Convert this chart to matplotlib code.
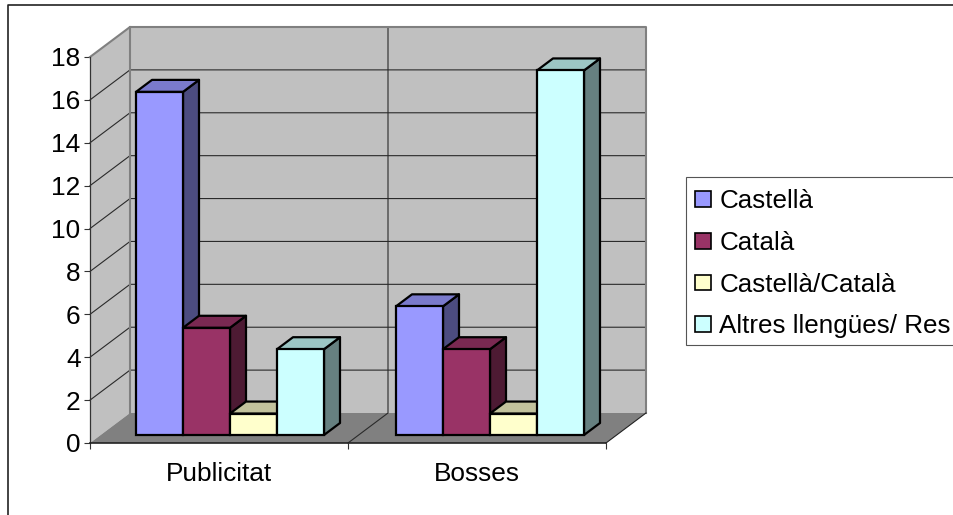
from matplotlib import pyplot as plt
from matplotlib.patches import Patch, Rectangle
from matplotlib.lines import Line2D

categories = ['Publicitat', 'Bosses']
series_names = ['Castellà', 'Català', 'Castellà/Català', 'Altres llengües/ Res']
castella = [16, 6]
catala = [5, 4]
castella_catala = [1, 1]
altres = [4, 17]
yticks = [0, 2, 4, 6, 8, 10, 12, 14, 16, 18]

# front, top, side colour of each series
front_colors = ['#9999FF', '#993366', '#FFFFCC', '#CCFFFF']
top_colors = ['#7A7ACC', '#7A2952', '#C2C29C', '#9CC6C4']
side_colors = ['#4C4C80', '#4D1A33', '#80806A', '#668080']

W, H = 954, 515
px_x = 258.0   # pixels for one category
px_y = 386.0 / 18  # pixels for one y unit


def dx(p):
    return p / px_x


def dy(p):
    return p / px_y


plt.rcParams['font.family'] = ['Liberation Sans', 'DejaVu Sans']
fig = plt.figure(figsize=(W / 100, H / 100), dpi=100)
ax = fig.add_axes([90 / W, 1 - 443 / H, 516 / W, 386 / H])
ax.set_xlim(0, 2)
ax.set_ylim(0, 18)
ax.patch.set_visible(False)

# walls and floor
wall_x, wall_y = dx(40), dy(30)
ax.fill([0, wall_x, wall_x, 0], [0, wall_y, 18 + wall_y, 18], color='#C0C0C0', lw=0, clip_on=False, zorder=1)
ax.fill([wall_x, 2 + wall_x, 2 + wall_x, wall_x], [wall_y, wall_y, 18 + wall_y, 18 + wall_y],
        color='#C0C0C0', lw=0, clip_on=False, zorder=1)
ax.fill([0, 2, 2 + wall_x, wall_x], [0, 0, wall_y, wall_y], color='#808080', lw=0, clip_on=False, zorder=1)

# grid lines
for v in yticks[1:-1]:
    ax.plot([0, wall_x, 2 + wall_x], [v, v + wall_y, v + wall_y], color='#2A2A2A', lw=0.8, clip_on=False, zorder=2)
ax.plot([1, 1 + wall_x, 1 + wall_x], [0, wall_y, 18 + wall_y], color='#2A2A2A', lw=0.8, clip_on=False, zorder=2)
ax.plot([0, wall_x, 2 + wall_x, 2 + wall_x], [18, 18 + wall_y, 18 + wall_y, wall_y],
        color='#808080', lw=1.5, clip_on=False, zorder=2)
ax.plot([wall_x, wall_x], [18 + wall_y, wall_y], color='#808080', lw=1.5, clip_on=False, zorder=2)
ax.plot([2, 2 + wall_x], [0, wall_y], color='#222222', lw=0.8, clip_on=False, zorder=2)

# bars
all_values = [castella, catala, castella_catala, altres]
bar_w = dx(47)
group_left = [dx(136 - 90), dx(396 - 90)]
base = dy(8)
depth_x, depth_y = dx(16), dy(12)
z = 3
for i in range(len(categories)):
    for j, values in enumerate(all_values):
        x0 = group_left[i] + j * bar_w
        x1 = x0 + bar_w
        top = base + values[i]
        ax.fill([x1, x1 + depth_x, x1 + depth_x, x1], [base, base + depth_y, top + depth_y, top],
                facecolor=side_colors[j], edgecolor='black', lw=1.6, clip_on=False, zorder=z, joinstyle='round')
        ax.fill([x0, x1, x1 + depth_x, x0 + depth_x], [top, top, top + depth_y, top + depth_y],
                facecolor=top_colors[j], edgecolor='black', lw=1.6, clip_on=False, zorder=z, joinstyle='round')
        ax.bar(x0, values[i], width=bar_w, bottom=base, align='edge', color=front_colors[j],
               edgecolor='black', lw=1.6, clip_on=False, zorder=z + 0.5)
        z += 1

# axes
for s in ['top', 'right']:
    ax.spines[s].set_visible(False)
ax.spines['left'].set_color('#333333')
ax.spines['left'].set_linewidth(0.9)
ax.spines['bottom'].set_color('#222222')
ax.spines['bottom'].set_linewidth(1.2)
ax.set_yticks(yticks)
ax.set_xticks([0, 1, 2], ['', '', ''])
ax.set_xticks([0.5, 1.5], categories, minor=True)
ax.tick_params(axis='y', length=4.3, width=0.8, color='#333333', labelsize=18.9, pad=2.5)
ax.tick_params(axis='x', which='major', length=4.3, width=0.8, color='#333333')
ax.tick_params(axis='x', which='minor', length=0, labelsize=18.9, pad=13.5)

# legend, its frame is drawn apart so that the rows can sit lower in it
fig.add_artist(Rectangle((686 / W, 1 - 345 / H), 300 / W, 168 / H, facecolor='white', edgecolor='#555555', lw=0.8))
handles = [Patch(facecolor=c, edgecolor='black', lw=1.2) for c in front_colors]
leg = fig.legend(handles, series_names, loc='upper left', bbox_to_anchor=(686 / W, 1 - 180 / H),
                 borderaxespad=0, fontsize=18.7, frameon=False,
                 handlelength=0.6, handleheight=0.55, handletextpad=0.33, borderpad=0.35, labelspacing=0.685)

# chart border, cut by the picture on the right and at the bottom
fig.add_artist(Line2D([8 / W, 8 / W, 1], [0, 1 - 5 / H, 1 - 5 / H], color='#222222', lw=1.2))

plt.savefig('out.png', dpi=100)
